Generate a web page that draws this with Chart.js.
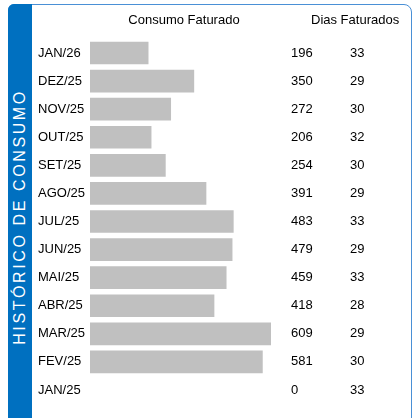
<!DOCTYPE html>
<html>
<head>
<meta charset="utf-8">
<script src="https://cdn.jsdelivr.net/npm/chart.js@4/dist/chart.umd.min.js"></script>
<style>
  body { margin: 0; background: #fff; }
  #wrap { position: relative; width: 417px; height: 418px; overflow: hidden; font-family: Arial, "Liberation Sans", sans-serif; }
  #box { position: absolute; left: 8px; top: 4px; width: 402px; height: 440px; border: 1.5px solid #4a90d6; border-radius: 6px 8px 0 0; }
  #band { position: absolute; left: 8px; top: 4px; width: 24px; height: 440px; background: #0070c0; border-top-left-radius: 6px; }
  #title { position: absolute; left: 20px; top: 217px; transform: translate(-50%, -50%) rotate(-90deg); color: #fff; font-size: 16px; letter-spacing: 2.6px; white-space: nowrap; }
  canvas { position: absolute; left: 0; top: 0; }
</style>
</head>
<body>
<div id="wrap">
  <div id="box"></div>
  <div id="band"></div>
  <div id="title">HISTÓRICO DE CONSUMO</div>
  <canvas id="consumoChart" width="417" height="418"></canvas>
</div>
<script>
// Histórico de consumo
const months = ['JAN/26', 'DEZ/25', 'NOV/25', 'OUT/25', 'SET/25', 'AGO/25', 'JUL/25', 'JUN/25', 'MAI/25', 'ABR/25', 'MAR/25', 'FEV/25', 'JAN/25'];
const consumo = [196, 350, 272, 206, 254, 391, 483, 479, 459, 418, 609, 581, 0];
const dias = [33, 29, 30, 32, 30, 29, 33, 29, 33, 28, 29, 30, 33];
const headers = ['Consumo Faturado', 'Dias Faturados'];

const font = 'Arial, "Liberation Sans", sans-serif';

// draws the header line and the two number columns
const columnsPlugin = {
    id: 'columns',
    afterDraw(chart) {
        const ctx = chart.ctx;
        const yScale = chart.scales.y;
        ctx.save();
        ctx.fillStyle = '#000';
        ctx.font = '13px ' + font;
        ctx.textBaseline = 'middle';
        ctx.textAlign = 'center';
        ctx.fillText(headers[0], 184, 20);
        ctx.textAlign = 'left';
        ctx.fillText(headers[1], 311, 20);
        for (let i = 0; i < months.length; i++) {
            const y = yScale.getPixelForValue(i);
            ctx.fillText(String(consumo[i]), 291, y);
            ctx.fillText(String(dias[i]), 350, y);
        }
        ctx.restore();
    }
};

const canvas = document.getElementById('consumoChart');
if (canvas) {
    const ctx = canvas.getContext('2d');
    new Chart(ctx, {
        type: 'bar',
        data: {
            labels: months,
            datasets: [{
                data: consumo,
                // no sliver for an empty month
                backgroundColor: function(c) {
                    return c.raw ? '#c0c0c0' : 'rgba(0,0,0,0)';
                },
                borderWidth: 0,
                barThickness: 22
            }]
        },
        options: {
            indexAxis: 'y',
            responsive: false,
            animation: false,
            layout: {
                padding: { left: 38, top: 39, right: 146, bottom: 14 }
            },
            scales: {
                x: {
                    display: false,
                    min: 0,
                    max: 610
                },
                y: {
                    grid: { display: false },
                    border: { display: false },
                    ticks: {
                        crossAlign: 'far',
                        color: '#000',
                        font: { family: font, size: 13 }
                    },
                    afterFit: function(scale) {
                        scale.width = 52;
                    }
                }
            },
            plugins: {
                legend: { display: false },
                tooltip: { enabled: false }
            }
        },
        plugins: [columnsPlugin]
    });
}
</script>
</body>
</html>
